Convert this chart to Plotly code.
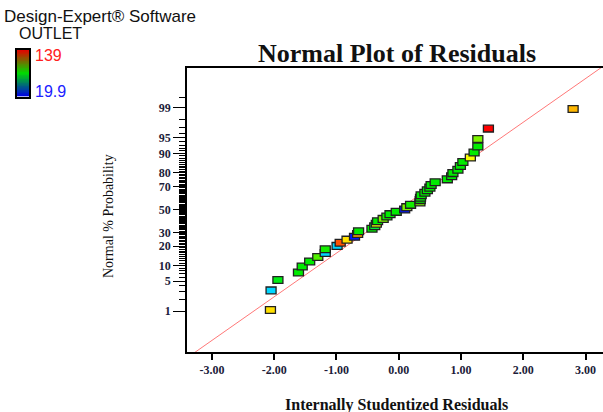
from statistics import NormalDist

import plotly.graph_objects as go
import plotly.colors as pc

# Internally studentized residuals (sorted) and the OUTLET response of each run
residuals = [
    -2.06, -2.05, -1.94, -1.61, -1.55, -1.43, -1.30, -1.18, -1.18, -0.99,
    -0.94, -0.83, -0.71, -0.66, -0.645, -0.43, -0.385, -0.36, -0.34, -0.25,
    -0.19, -0.14, -0.04, 0.095, 0.13, 0.19, 0.34, 0.345, 0.35, 0.36,
    0.42, 0.46, 0.50, 0.52, 0.585, 0.78, 0.85, 0.87, 0.95, 0.99,
    1.03, 1.15, 1.21, 1.27, 1.27, 1.44, 2.80,
]
outlet = [
    112.8, 44.9, 77.1, 79.5, 79.5, 79.5, 89.0, 44.9, 81.8, 44.9,
    129.5, 112.8, 22.3, 119.9, 79.5, 79.5, 73.5, 106.8, 79.5, 94.0,
    81.8, 79.5, 79.5, 22.3, 94.0, 81.8, 94.0, 79.5, 79.5, 79.5,
    79.5, 79.5, 79.5, 79.5, 79.5, 79.5, 79.5, 79.5, 79.5, 79.5,
    79.5, 108.0, 79.5, 79.5, 94.0, 139.0, 117.6,
]
outlet_min, outlet_max = 19.9, 139.0

prob_ticks = [1, 5, 10, 20, 30, 50, 70, 80, 90, 95, 99]
x_ticks = [-3, -2, -1, 0, 1, 2, 3]

nd = NormalDist()

# normal plotting positions (i - 0.5) / n on a probit scale
n = len(residuals)
probs = [(i + 0.5) / n for i in range(n)]
zvals = [nd.inv_cdf(p) for p in probs]

minor_probs = ([2, 3, 4, 6, 7, 8, 9] + list(range(11, 20)) + list(range(21, 30))
               + list(range(31, 50)) + list(range(51, 70)) + list(range(71, 80))
               + list(range(81, 90)) + [91, 92, 93, 94, 96, 97, 98, 99.5])

rainbow = [[0.0, "rgb(0,0,255)"], [0.25, "rgb(0,255,255)"], [0.5, "rgb(0,235,0)"],
           [0.75, "rgb(255,255,0)"], [1.0, "rgb(255,0,0)"]]
bar_scale = [[0.0, "rgb(0,0,230)"], [0.5, "rgb(0,220,0)"], [1.0, "rgb(230,0,0)"]]

fracs = [(v - outlet_min) / (outlet_max - outlet_min) for v in outlet]
point_colors = pc.sample_colorscale(rainbow, fracs)

W, H = 603, 412


def px(x):
    return x / W


def py(y):
    return 1 - y / H


serif = "Liberation Serif"
sans = "Liberation Sans"
ink = "#1c1c3a"

fig = go.Figure()

# reference line
fig.add_trace(go.Scatter(
    x=[-3.6, 3.6], y=[-3.6, 3.6], mode="lines",
    line=dict(color="rgb(255,120,120)", width=1), hoverinfo="skip", showlegend=False,
))

# OUTLET colour key as a one-column heatmap
steps = 60
key_vals = [outlet_min + (outlet_max - outlet_min) * k / (steps - 1) for k in range(steps)]
fig.add_trace(go.Heatmap(
    x=[0], y=key_vals, z=[[v] for v in key_vals], xaxis="x2", yaxis="y2",
    colorscale=bar_scale, zmin=outlet_min, zmax=outlet_max, showscale=False,
    hoverinfo="skip",
))

# residual points as small rectangles anchored at their data coordinates
shapes = []
for xv, zv, col in zip(residuals, zvals, point_colors):
    shapes.append(dict(
        type="rect", xref="x", yref="y",
        xsizemode="pixel", ysizemode="pixel", xanchor=xv, yanchor=zv,
        x0=-5, x1=5, y0=-3.4, y1=3.4,
        fillcolor=col, line=dict(color="#202020", width=1.3), layer="above",
    ))

annotations = [
    dict(text="Design-Expert® Software", x=px(2), y=py(17), xanchor="left", yanchor="middle",
         font=dict(family=sans, size=17, color="#111")),
    dict(text="OUTLET", x=px(17), y=py(34), xanchor="left", yanchor="middle",
         font=dict(family=sans, size=16, color="#111")),
    dict(text="139", x=px(33), y=py(55), xanchor="left", yanchor="middle",
         font=dict(family=sans, size=16, color="#ff2020")),
    dict(text="19.9", x=px(33), y=py(91), xanchor="left", yanchor="middle",
         font=dict(family=sans, size=16, color="#2020ff")),
    dict(text="<b>Normal Plot of Residuals</b>", x=px(397), y=py(53), xanchor="center",
         yanchor="middle", font=dict(family=serif, size=26, color="#111")),
    dict(text="<b>Internally Studentized Residuals</b>", x=px(396), y=py(405),
         xanchor="center", yanchor="middle", font=dict(family=serif, size=16, color="#111")),
    dict(text="Normal % Probability", x=px(108), y=py(216), textangle=-90,
         xanchor="center", yanchor="middle", font=dict(family=serif, size=14, color="#111")),
]
for a in annotations:
    a.update(xref="paper", yref="paper", showarrow=False)

fig.update_layout(
    width=W, height=H,
    margin=dict(l=0, r=0, t=0, b=0),
    paper_bgcolor="white", plot_bgcolor="white",
    shapes=shapes,
    annotations=annotations,
    showlegend=False,
    xaxis=dict(
        domain=[px(187), 1.0], anchor="y",
        range=[-3.40, 3.28], tickvals=x_ticks, ticktext=[f"{v:.2f}" for v in x_ticks],
        showgrid=False, zeroline=False, showline=True, linecolor="black", linewidth=1.5,
        mirror=True, ticks="outside", ticklen=6, tickwidth=1.5, tickcolor="black",
        tickfont=dict(family=serif, size=12, color=ink, weight="bold"),
    ),
    yaxis=dict(
        domain=[py(352), py(68)], anchor="x",
        range=[-3.265, 3.242],
        tickvals=[nd.inv_cdf(p / 100) for p in prob_ticks],
        ticktext=[str(p) for p in prob_ticks],
        showgrid=False, zeroline=False, showline=True, linecolor="black", linewidth=1.5,
        ticks="outside", ticklen=12, tickwidth=1.3, tickcolor="black",
        tickfont=dict(family=serif, size=12, color=ink, weight="bold"),
        minor=dict(tickmode="array", tickvals=[nd.inv_cdf(p / 100) for p in minor_probs],
                   ticks="outside", ticklen=6, tickwidth=1, tickcolor="black", showgrid=False),
    ),
    xaxis2=dict(
        domain=[px(17), px(29)], anchor="y2", range=[-0.5, 0.5],
        showticklabels=False, ticks="", showgrid=False, zeroline=False,
        showline=True, linecolor="black", linewidth=1.5, mirror=True,
    ),
    yaxis2=dict(
        domain=[py(96.5), py(50)], anchor="x2", range=[outlet_min, outlet_max],
        showticklabels=False, ticks="", showgrid=False, zeroline=False,
        showline=True, linecolor="black", linewidth=1.5, mirror=True,
    ),
)

fig.write_html("out.html")
